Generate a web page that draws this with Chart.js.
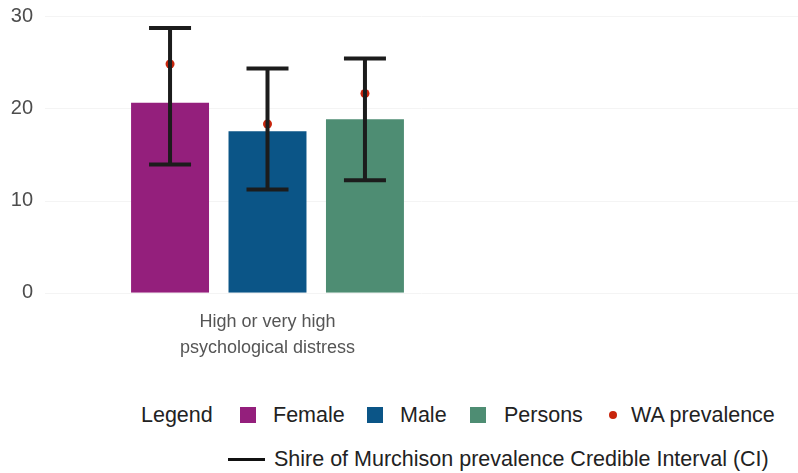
<!DOCTYPE html>
<html>
<head>
<meta charset="utf-8">
<script src="https://cdn.jsdelivr.net/npm/chart.js@4"></script>
<style>
  html,body{margin:0;padding:0;background:#fff;}
  body{width:798px;height:473px;position:relative;overflow:hidden;font-family:"Liberation Sans",Arial,sans-serif;}
  #wrap{position:absolute;left:0;top:0;width:798px;height:369px;}
  .it{position:absolute;height:30px;display:flex;align-items:center;font-size:21.5px;color:#222;white-space:nowrap;}
  .sw{width:16px;height:16px;}
  .dot{width:8px;height:8px;border-radius:50%;background:#c8250c;}
  .ln{width:37px;height:3px;background:#111;}
</style>
</head>
<body>
<div id="wrap"><canvas id="c"></canvas></div>
<div class="it" style="left:141px;top:400px;">Legend</div>
<div class="it" style="left:240px;top:400px;"><span class="sw" style="background:#941f7c"></span></div>
<div class="it" style="left:273px;top:400px;">Female</div>
<div class="it" style="left:367px;top:400px;"><span class="sw" style="background:#0b5587"></span></div>
<div class="it" style="left:400px;top:400px;">Male</div>
<div class="it" style="left:470px;top:400px;"><span class="sw" style="background:#4e8d73"></span></div>
<div class="it" style="left:504px;top:400px;">Persons</div>
<div class="it" style="left:609px;top:400px;"><span class="dot"></span></div>
<div class="it" style="left:631px;top:400px;">WA prevalence</div>
<div class="it" style="left:228px;top:444px;"><span class="ln"></span></div>
<div class="it" style="left:274px;top:444px;">Shire of Murchison prevalence Credible Interval (CI)</div>
<script>
const categories = [['High or very high', 'psychological distress']];
const seriesNames = ['Female', 'Male', 'Persons'];
const seriesColors = ['#941f7c', '#0b5587', '#4e8d73'];
const prevalence = [20.6, 17.5, 18.8];
const ciLower = [13.9, 11.2, 12.2];
const ciUpper = [28.7, 24.3, 25.4];
const waPrevalence = [24.8, 18.3, 21.6];
const yTicks = [0, 10, 20, 30];

const errorPlugin = {
  id: 'errs',
  beforeDatasetsDraw(chart){
    const {ctx, chartArea, scales:{y}} = chart;
    ctx.save();
    ctx.strokeStyle = '#f4f4f4'; ctx.lineWidth = 1;
    yTicks.forEach(v=>{
      const py = Math.round(y.getPixelForValue(v)) + 0.5;
      ctx.beginPath(); ctx.moveTo(chartArea.left, py); ctx.lineTo(chart.width, py); ctx.stroke();
    });
    ctx.restore();
  },
  afterDatasetsDraw(chart){
    const {ctx, scales:{y}} = chart;
    ctx.save();
    chart.data.datasets.forEach((ds, i)=>{
      const bar = chart.getDatasetMeta(i).data[0];
      if(!bar) return;
      const x = bar.x;
      const top = y.getPixelForValue(ciUpper[i]);
      const bot = y.getPixelForValue(ciLower[i]);
      const cap = 21;
      ctx.fillStyle = '#c8250c';
      ctx.beginPath(); ctx.arc(x, y.getPixelForValue(waPrevalence[i]), 4.5, 0, Math.PI*2); ctx.fill();
      ctx.strokeStyle = '#1c1c1c'; ctx.lineWidth = 4; ctx.lineCap = 'butt';
      ctx.beginPath();
      ctx.moveTo(x, top); ctx.lineTo(x, bot);
      ctx.moveTo(x-cap, top); ctx.lineTo(x+cap, top);
      ctx.moveTo(x-cap, bot); ctx.lineTo(x+cap, bot);
      ctx.stroke();
    });
    ctx.restore();
  }
};

new Chart(document.getElementById('c'), {
  type: 'bar',
  data: {
    labels: categories,
    datasets: seriesNames.map((n, i)=>({
      label: n,
      data: [prevalence[i]],
      backgroundColor: seriesColors[i],
      barPercentage: 0.8,
      categoryPercentage: 0.657
    }))
  },
  options: {
    responsive: true,
    maintainAspectRatio: false,
    animation: false,
    layout: { padding: { top: 6, right: 308, left: 0, bottom: 0 } },
    plugins: { legend: { display: false }, tooltip: { enabled: false } },
    scales: {
      x: {
        grid: { display: false },
        border: { display: false },
        ticks: { color: '#555', font: { family: 'Liberation Sans', size: 18, lineHeight: 1.45 }, padding: 8 }
      },
      y: {
        min: 0, max: 30,
        afterFit(s){ s.width = 45; },
        afterBuildTicks(s){ s.ticks = yTicks.map(v=>({value:v})); },
        grid: { display: false },
        border: { display: false },
        ticks: { color: '#4d4d4d', font: { family: 'Liberation Sans', size: 20 }, padding: 4 }
      }
    }
  },
  plugins: [errorPlugin]
});
</script>
</body>
</html>
